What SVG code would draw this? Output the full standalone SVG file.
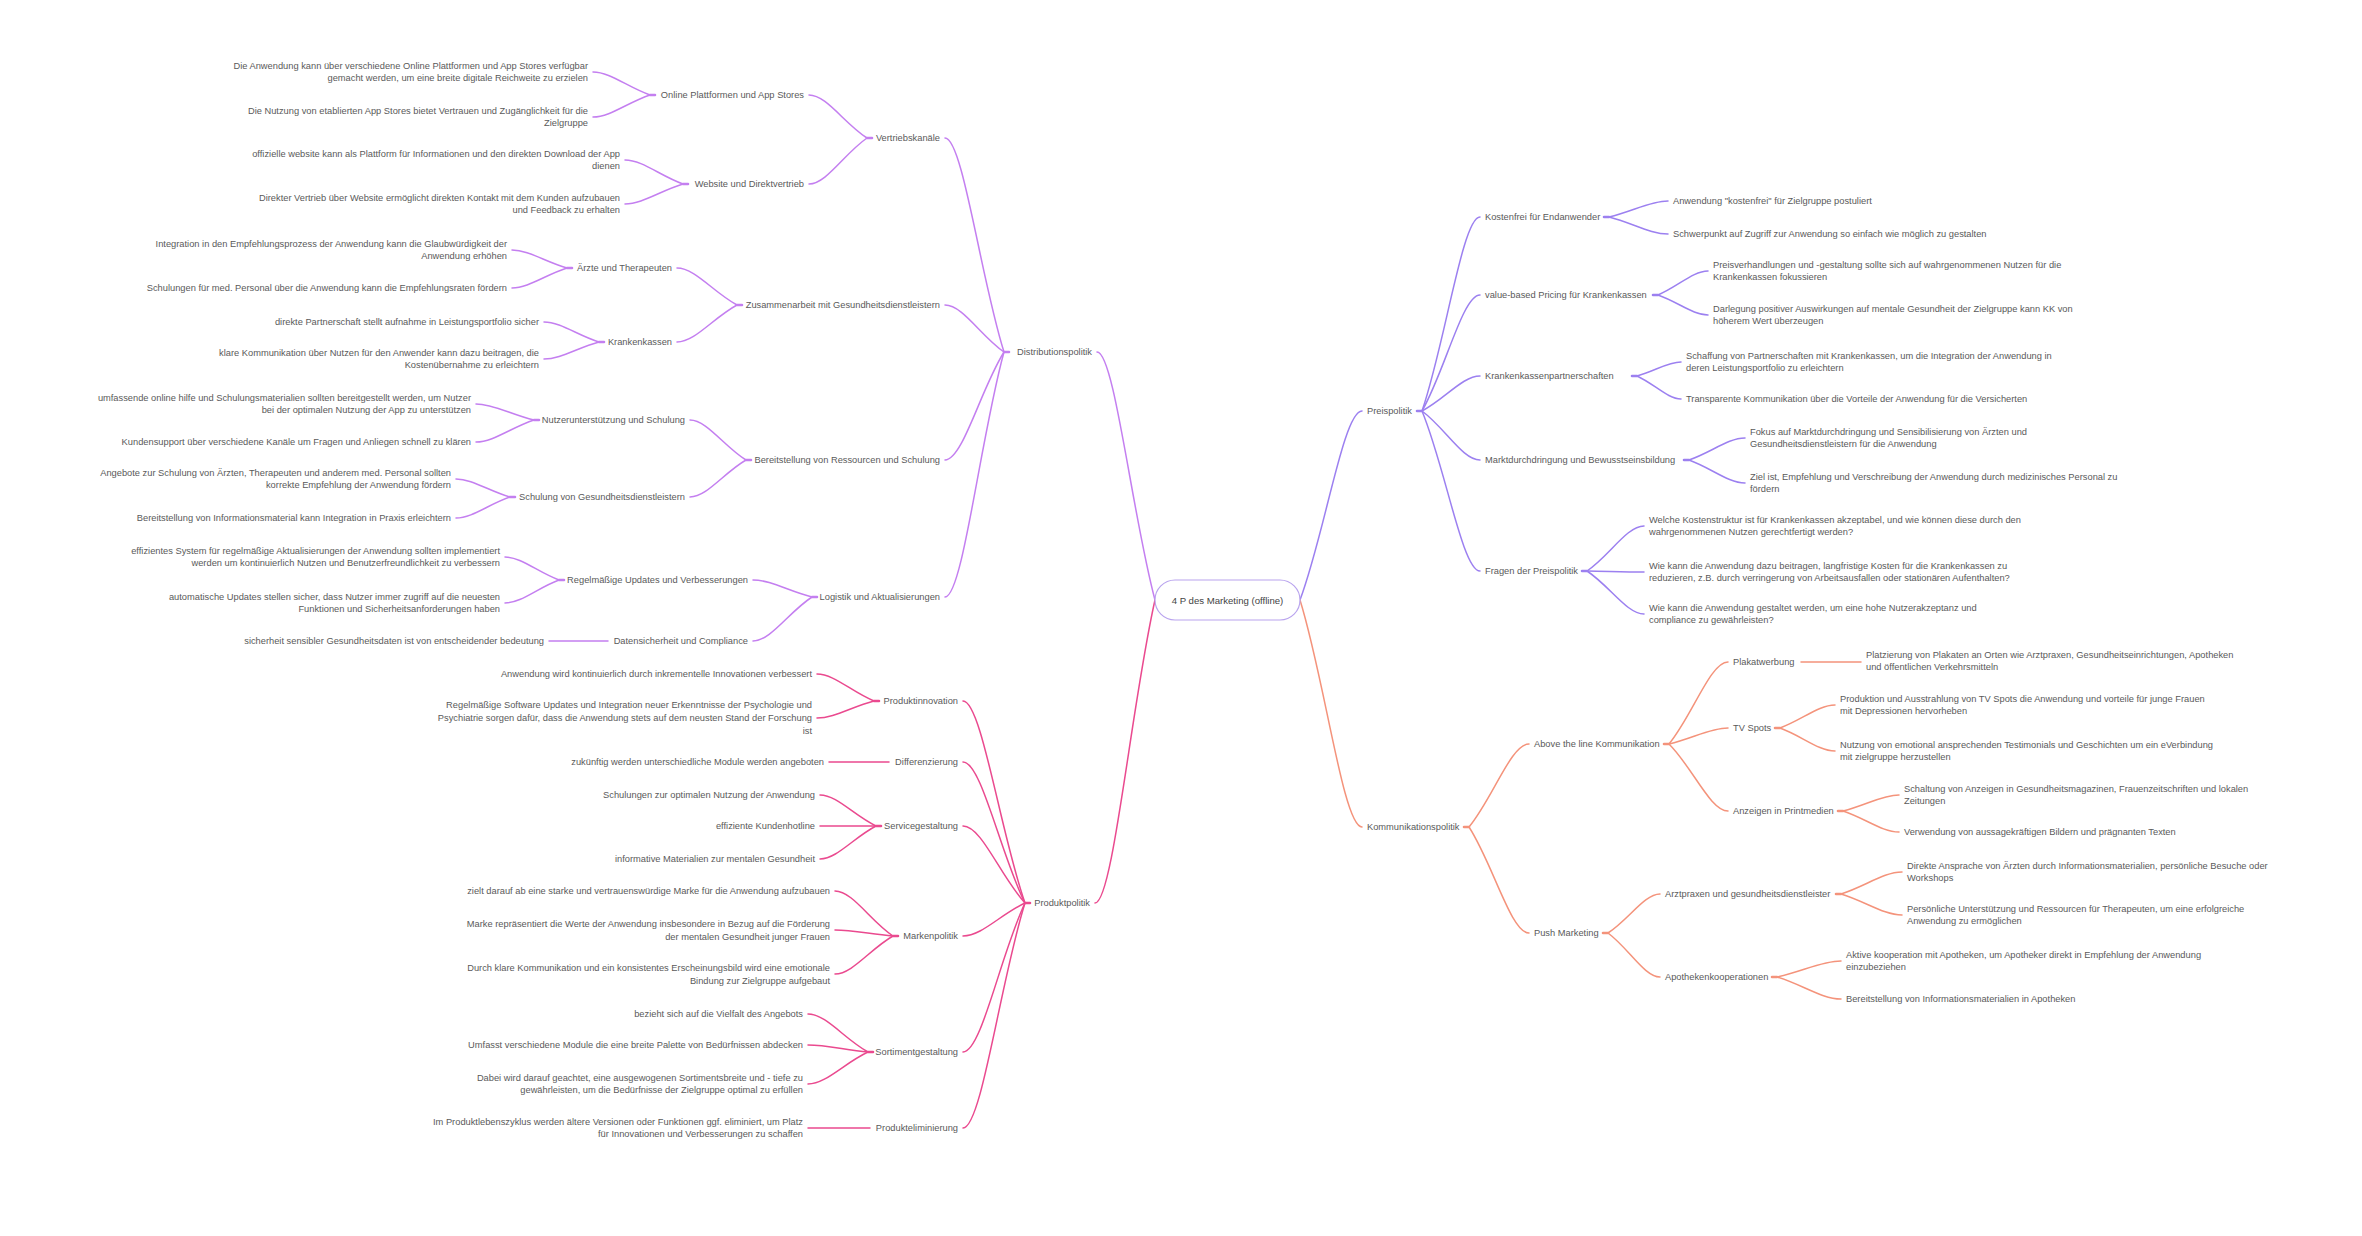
<svg xmlns="http://www.w3.org/2000/svg" width="2362" height="1236" viewBox="0 0 2362 1236">
<style>
.t{font-family:"Liberation Sans",Arial,sans-serif;font-size:9.3px;fill:#5a5a5a;dominant-baseline:central}
.e{text-anchor:end}
.m{text-anchor:middle}
.c path{fill:none;stroke-width:1.5;stroke-linecap:round}
.c path.s{stroke-width:2.6}
.cd path{stroke:#c47ff0}
.cp path{stroke:#ea4a8f}
.cv path{stroke:#9c80f0}
.ck path{stroke:#f4937b}
</style>
<rect width="2362" height="1236" fill="#fff"/>
<g id="connectors" class="c">
<g class="cd">
<path d="M1155,600 C1131.8,513.2 1114.4,352 1097,352"/>
<path d="M1004,352 C980.4,277.1 962.7,138 945,138"/>
<path d="M1004,352 C980.4,335.6 962.7,305 945,305"/>
<path d="M1004,352 C980.4,389.8 962.7,460 945,460"/>
<path d="M1004,352 C980.4,437.8 962.7,597 945,597"/>
<path d="M867,138 C843.8,123 826.4,95 809,95"/>
<path d="M867,138 C843.8,154.1 826.4,184 809,184"/>
<path d="M650,95 C627.2,87 610.1,72 593,72"/>
<path d="M650,95 C627.2,102.7 610.1,117 593,117"/>
<path d="M683,184 C659.8,175.6 642.4,160 625,160"/>
<path d="M683,184 C659.8,191 642.4,204 625,204"/>
<path d="M737,305 C713,292 695,268 677,268"/>
<path d="M737,305 C713,318 695,342 677,342"/>
<path d="M567,268 C545,261.7 528.5,250 512,250"/>
<path d="M567,268 C545,275 528.5,288 512,288"/>
<path d="M599,342 C577,335 560.5,322 544,322"/>
<path d="M599,342 C577,348 560.5,359 544,359"/>
<path d="M746,460 C723.6,446 706.8,420 690,420"/>
<path d="M746,460 C723.6,473 706.8,497 690,497"/>
<path d="M534,420 C510.8,414.4 493.4,404 476,404"/>
<path d="M534,420 C510.8,427.7 493.4,442 476,442"/>
<path d="M510,497 C488.4,490.7 472.2,479 456,479"/>
<path d="M510,497 C488.4,504.4 472.2,518 456,518"/>
<path d="M812,597 C788.4,591 770.7,580 753,580"/>
<path d="M812,597 C788.4,612.4 770.7,641 753,641"/>
<path d="M559,580 C537.4,572 521.2,557 505,557"/>
<path d="M559,580 C537.4,588 521.2,603 505,603"/>
<path d="M608,641 H549"/>
<path class="s" d="M1004,352 h5 M867,138 h5 M650,95 h5 M683,184 h5 M737,305 h5 M567,268 h5 M599,342 h5 M746,460 h5 M534,420 h5 M510,497 h5 M812,597 h5 M559,580 h5"/>
</g>
<g class="cp">
<path d="M1155,600 C1131,706 1113,903 1095,903"/>
<path d="M1025,903 C1000.2,832.3 981.6,701 963,701"/>
<path d="M1025,903 C1000.2,853.7 981.6,762 963,762"/>
<path d="M1025,903 C1000.2,876 981.6,826 963,826"/>
<path d="M1025,903 C1000.2,914.6 981.6,936 963,936"/>
<path d="M1025,903 C1000.2,955.2 981.6,1052 963,1052"/>
<path d="M1025,903 C1000.2,981.8 981.6,1128 963,1128"/>
<path d="M874,701 C851.2,691.6 834.1,674 817,674"/>
<path d="M874,701 C851.2,707 834.1,718 817,718"/>
<path d="M889,762 H829"/>
<path d="M876,826 C853.6,815.2 836.8,795 820,795"/>
<path d="M876,826 H820"/>
<path d="M876,826 C853.6,837.6 836.8,859 820,859"/>
<path d="M893,936 C869.8,920.3 852.4,891 835,891"/>
<path d="M893,936 C869.8,933.9 852.4,930 835,930"/>
<path d="M893,936 C869.8,949.3 852.4,974 835,974"/>
<path d="M868,1052 C844,1038.7 826,1014 808,1014"/>
<path d="M868,1052 C844,1049.6 826,1045 808,1045"/>
<path d="M868,1052 C844,1063.2 826,1084 808,1084"/>
<path d="M870,1128 H808"/>
<path class="s" d="M1025,903 h5 M874,701 h5 M876,826 h5 M893,936 h5 M868,1052 h5"/>
</g>
<g class="cv">
<path d="M1300,600 C1324.8,533.9 1343.4,411 1362,411"/>
<path d="M1422,411 C1445.2,343.1 1462.6,217 1480,217"/>
<path d="M1422,411 C1445.2,370.4 1462.6,295 1480,295"/>
<path d="M1422,411 C1445.2,398.8 1462.6,376 1480,376"/>
<path d="M1422,411 C1445.2,428.2 1462.6,460 1480,460"/>
<path d="M1422,411 C1445.2,467 1462.6,571 1480,571"/>
<path d="M1609,217 C1632.6,211.4 1650.3,201 1668,201"/>
<path d="M1609,217 C1632.6,223 1650.3,234 1668,234"/>
<path d="M1658,295 C1678,286.6 1693,271 1708,271"/>
<path d="M1658,295 C1678,302 1693,315 1708,315"/>
<path d="M1637,376 C1654.6,371.1 1667.8,362 1681,362"/>
<path d="M1637,376 C1654.6,384.1 1667.8,399 1681,399"/>
<path d="M1689,460 C1711.4,452.3 1728.2,438 1745,438"/>
<path d="M1689,460 C1711.4,468.1 1728.2,483 1745,483"/>
<path d="M1587,571 C1609.8,555.3 1626.9,526 1644,526"/>
<path d="M1587,571 C1609.8,571.4 1626.9,572 1644,572"/>
<path d="M1587,571 C1609.8,586.1 1626.9,614 1644,614"/>
<path class="s" d="M1422,411 h-5 M1609,217 h-5 M1658,295 h-5 M1637,376 h-5 M1689,460 h-5 M1587,571 h-5"/>
</g>
<g class="ck">
<path d="M1300,600 C1324.8,679.5 1343.4,827 1362,827"/>
<path d="M1469,827 C1493,798 1511,744 1529,744"/>
<path d="M1469,827 C1493,864.1 1511,933 1529,933"/>
<path d="M1669,744 C1692.6,715.3 1710.3,662 1728,662"/>
<path d="M1669,744 C1692.6,738.4 1710.3,728 1728,728"/>
<path d="M1669,744 C1692.6,767.5 1710.3,811 1728,811"/>
<path d="M1801,662 H1861"/>
<path d="M1780,728 C1802,720 1818.5,705 1835,705"/>
<path d="M1780,728 C1802,736 1818.5,751 1835,751"/>
<path d="M1843,811 C1865.4,805.4 1882.2,795 1899,795"/>
<path d="M1843,811 C1865.4,818.4 1882.2,832 1899,832"/>
<path d="M1608,933 C1628.8,919.4 1644.4,894 1660,894"/>
<path d="M1608,933 C1628.8,948.4 1644.4,977 1660,977"/>
<path d="M1841,894 C1865.4,886.3 1883.7,872 1902,872"/>
<path d="M1841,894 C1865.4,901.4 1883.7,915 1902,915"/>
<path d="M1777,977 C1802.6,971.4 1821.8,961 1841,961"/>
<path d="M1777,977 C1802.6,984.7 1821.8,999 1841,999"/>
<path class="s" d="M1469,827 h-5 M1669,744 h-5 M1780,728 h-5 M1843,811 h-5 M1608,933 h-5 M1841,894 h-5 M1777,977 h-5"/>
</g>
</g>

<g id="node-center">
<rect x="1155" y="580" width="145" height="40" rx="20" fill="#fff" stroke="#b9a4ee" stroke-width="1.2"/>
<text class="t m" x="1227.5" y="600" style="font-size:9.6px;fill:#444">4 P des Marketing (offline)</text>
</g>

<!-- Distributionspolitik -->
<g id="node-distributionspolitik"><text class="t e" x="1092" y="352">Distributionspolitik</text></g>
<g id="node-vertriebskanaele"><text class="t e" x="940" y="138">Vertriebskanäle</text></g>
<g id="node-online"><text class="t e" x="804" y="95">Online Plattformen und App Stores</text></g>
<g id="node-online-1"><text class="t e"><tspan x="588" y="66">Die Anwendung kann über verschiedene Online Plattformen und App Stores verfügbar</tspan><tspan x="588" y="78">gemacht werden, um eine breite digitale Reichweite zu erzielen</tspan></text></g>
<g id="node-online-2"><text class="t e"><tspan x="588" y="111">Die Nutzung von etablierten App Stores bietet Vertrauen und Zugänglichkeit für die</tspan><tspan x="588" y="123">Zielgruppe</tspan></text></g>
<g id="node-website"><text class="t e" x="804" y="184">Website und Direktvertrieb</text></g>
<g id="node-website-1"><text class="t e"><tspan x="620" y="154">offizielle website kann als Plattform für Informationen und den direkten Download der App</tspan><tspan x="620" y="166">dienen</tspan></text></g>
<g id="node-website-2"><text class="t e"><tspan x="620" y="198">Direkter Vertrieb über Website ermöglicht direkten Kontakt mit dem Kunden aufzubauen</tspan><tspan x="620" y="210">und Feedback zu erhalten</tspan></text></g>
<g id="node-zusammenarbeit"><text class="t e" x="940" y="305">Zusammenarbeit mit Gesundheitsdienstleistern</text></g>
<g id="node-aerzte"><text class="t e" x="672" y="268">Ärzte und Therapeuten</text></g>
<g id="node-aerzte-1"><text class="t e"><tspan x="507" y="244">Integration in den Empfehlungsprozess der Anwendung kann die Glaubwürdigkeit der</tspan><tspan x="507" y="256">Anwendung erhöhen</tspan></text></g>
<g id="node-aerzte-2"><text class="t e" x="507" y="288">Schulungen für med. Personal über die Anwendung kann die Empfehlungsraten fördern</text></g>
<g id="node-krankenkassen"><text class="t e" x="672" y="342">Krankenkassen</text></g>
<g id="node-kk-1"><text class="t e" x="539" y="322">direkte Partnerschaft stellt aufnahme in Leistungsportfolio sicher</text></g>
<g id="node-kk-2"><text class="t e"><tspan x="539" y="353">klare Kommunikation über Nutzen für den Anwender kann dazu beitragen, die</tspan><tspan x="539" y="365">Kostenübernahme zu erleichtern</tspan></text></g>
<g id="node-bereitstellung"><text class="t e" x="940" y="460">Bereitstellung von Ressourcen und Schulung</text></g>
<g id="node-nutzer"><text class="t e" x="685" y="420">Nutzerunterstützung und Schulung</text></g>
<g id="node-nutzer-1"><text class="t e"><tspan x="471" y="398">umfassende online hilfe und Schulungsmaterialien sollten bereitgestellt werden, um Nutzer</tspan><tspan x="471" y="410">bei der optimalen Nutzung der App zu unterstützen</tspan></text></g>
<g id="node-nutzer-2"><text class="t e" x="471" y="442">Kundensupport über verschiedene Kanäle um Fragen und Anliegen schnell zu klären</text></g>
<g id="node-schulung"><text class="t e" x="685" y="497">Schulung von Gesundheitsdienstleistern</text></g>
<g id="node-schulung-1"><text class="t e"><tspan x="451" y="473">Angebote zur Schulung von Ärzten, Therapeuten und anderem med. Personal sollten</tspan><tspan x="451" y="485">korrekte Empfehlung der Anwendung fördern</tspan></text></g>
<g id="node-schulung-2"><text class="t e" x="451" y="518">Bereitstellung von Informationsmaterial kann Integration in Praxis erleichtern</text></g>
<g id="node-logistik"><text class="t e" x="940" y="597">Logistik und Aktualisierungen</text></g>
<g id="node-updates"><text class="t e" x="748" y="580">Regelmäßige Updates und Verbesserungen</text></g>
<g id="node-updates-1"><text class="t e"><tspan x="500" y="551">effizientes System für regelmäßige Aktualisierungen der Anwendung sollten implementiert</tspan><tspan x="500" y="563">werden um kontinuierlich Nutzen und Benutzerfreundlichkeit zu verbessern</tspan></text></g>
<g id="node-updates-2"><text class="t e"><tspan x="500" y="597">automatische Updates stellen sicher, dass Nutzer immer zugriff auf die neuesten</tspan><tspan x="500" y="609">Funktionen und Sicherheitsanforderungen haben</tspan></text></g>
<g id="node-daten"><text class="t e" x="748" y="641">Datensicherheit und Compliance</text></g>
<g id="node-daten-1"><text class="t e" x="544" y="641">sicherheit sensibler Gesundheitsdaten ist von entscheidender bedeutung</text></g>

<!-- Produktpolitik -->
<g id="node-produktpolitik"><text class="t e" x="1090" y="903">Produktpolitik</text></g>
<g id="node-produktinnovation"><text class="t e" x="958" y="701">Produktinnovation</text></g>
<g id="node-pi-1"><text class="t e" x="812" y="674">Anwendung wird kontinuierlich durch inkrementelle Innovationen verbessert</text></g>
<g id="node-pi-2"><text class="t e"><tspan x="812" y="705">Regelmäßige Software Updates und Integration neuer Erkenntnisse der Psychologie und</tspan><tspan x="812" y="718">Psychiatrie sorgen dafür, dass die Anwendung stets auf dem neusten Stand der Forschung</tspan><tspan x="812" y="731">ist</tspan></text></g>
<g id="node-differenzierung"><text class="t e" x="958" y="762">Differenzierung</text></g>
<g id="node-diff-1"><text class="t e" x="824" y="762">zukünftig werden unterschiedliche Module werden angeboten</text></g>
<g id="node-service"><text class="t e" x="958" y="826">Servicegestaltung</text></g>
<g id="node-service-1"><text class="t e" x="815" y="795">Schulungen zur optimalen Nutzung der Anwendung</text></g>
<g id="node-service-2"><text class="t e" x="815" y="826">effiziente Kundenhotline</text></g>
<g id="node-service-3"><text class="t e" x="815" y="859">informative Materialien zur mentalen Gesundheit</text></g>
<g id="node-marke"><text class="t e" x="958" y="936">Markenpolitik</text></g>
<g id="node-marke-1"><text class="t e" x="830" y="891">zielt darauf ab eine starke und vertrauenswürdige Marke für die Anwendung aufzubauen</text></g>
<g id="node-marke-2"><text class="t e"><tspan x="830" y="924">Marke repräsentiert die Werte der Anwendung insbesondere in Bezug auf die Förderung</tspan><tspan x="830" y="937">der mentalen Gesundheit junger Frauen</tspan></text></g>
<g id="node-marke-3"><text class="t e"><tspan x="830" y="968">Durch klare Kommunikation und ein konsistentes Erscheinungsbild wird eine emotionale</tspan><tspan x="830" y="981">Bindung zur Zielgruppe aufgebaut</tspan></text></g>
<g id="node-sortiment"><text class="t e" x="958" y="1052">Sortimentgestaltung</text></g>
<g id="node-sort-1"><text class="t e" x="803" y="1014">bezieht sich auf die Vielfalt des Angebots</text></g>
<g id="node-sort-2"><text class="t e" x="803" y="1045">Umfasst verschiedene Module die eine breite Palette von Bedürfnissen abdecken</text></g>
<g id="node-sort-3"><text class="t e"><tspan x="803" y="1078">Dabei wird darauf geachtet, eine ausgewogenen Sortimentsbreite und - tiefe zu</tspan><tspan x="803" y="1090">gewährleisten, um die Bedürfnisse der Zielgruppe optimal zu erfüllen</tspan></text></g>
<g id="node-elim"><text class="t e" x="958" y="1128">Produkteliminierung</text></g>
<g id="node-elim-1"><text class="t e"><tspan x="803" y="1122">Im Produktlebenszyklus werden ältere Versionen oder Funktionen ggf. eliminiert, um Platz</tspan><tspan x="803" y="1134">für Innovationen und Verbesserungen zu schaffen</tspan></text></g>

<!-- Preispolitik -->
<g id="node-preispolitik"><text class="t" x="1367" y="411">Preispolitik</text></g>
<g id="node-kostenfrei"><text class="t" x="1485" y="217">Kostenfrei für Endanwender</text></g>
<g id="node-kf-1"><text class="t" x="1673" y="201">Anwendung "kostenfrei" für Zielgruppe postuliert</text></g>
<g id="node-kf-2"><text class="t" x="1673" y="234">Schwerpunkt auf Zugriff zur Anwendung so einfach wie möglich zu gestalten</text></g>
<g id="node-value"><text class="t" x="1485" y="295">value-based Pricing für Krankenkassen</text></g>
<g id="node-value-1"><text class="t"><tspan x="1713" y="265">Preisverhandlungen und -gestaltung sollte sich auf wahrgenommenen Nutzen für die</tspan><tspan x="1713" y="277">Krankenkassen fokussieren</tspan></text></g>
<g id="node-value-2"><text class="t"><tspan x="1713" y="309">Darlegung positiver Auswirkungen auf mentale Gesundheit der Zielgruppe kann KK von</tspan><tspan x="1713" y="321">höherem Wert überzeugen</tspan></text></g>
<g id="node-kkpartner"><text class="t" x="1485" y="376">Krankenkassenpartnerschaften</text></g>
<g id="node-kkp-1"><text class="t"><tspan x="1686" y="356">Schaffung von Partnerschaften mit Krankenkassen, um die Integration der Anwendung in</tspan><tspan x="1686" y="368">deren Leistungsportfolio zu erleichtern</tspan></text></g>
<g id="node-kkp-2"><text class="t" x="1686" y="399">Transparente Kommunikation über die Vorteile der Anwendung für die Versicherten</text></g>
<g id="node-markt"><text class="t" x="1485" y="460">Marktdurchdringung und Bewusstseinsbildung</text></g>
<g id="node-markt-1"><text class="t"><tspan x="1750" y="432">Fokus auf Marktdurchdringung und Sensibilisierung von Ärzten und</tspan><tspan x="1750" y="444">Gesundheitsdienstleistern für die Anwendung</tspan></text></g>
<g id="node-markt-2"><text class="t"><tspan x="1750" y="477">Ziel ist, Empfehlung und Verschreibung der Anwendung durch medizinisches Personal zu</tspan><tspan x="1750" y="489">fördern</tspan></text></g>
<g id="node-fragen"><text class="t" x="1485" y="571">Fragen der Preispolitik</text></g>
<g id="node-fragen-1"><text class="t"><tspan x="1649" y="520">Welche Kostenstruktur ist für Krankenkassen akzeptabel, und wie können diese durch den</tspan><tspan x="1649" y="532">wahrgenommenen Nutzen gerechtfertigt werden?</tspan></text></g>
<g id="node-fragen-2"><text class="t"><tspan x="1649" y="566">Wie kann die Anwendung dazu beitragen, langfristige Kosten für die Krankenkassen zu</tspan><tspan x="1649" y="578">reduzieren, z.B. durch verringerung von Arbeitsausfallen oder stationären Aufenthalten?</tspan></text></g>
<g id="node-fragen-3"><text class="t"><tspan x="1649" y="608">Wie kann die Anwendung gestaltet werden, um eine hohe Nutzerakzeptanz und</tspan><tspan x="1649" y="620">compliance zu gewährleisten?</tspan></text></g>

<!-- Kommunikationspolitik -->
<g id="node-kommunikationspolitik"><text class="t" x="1367" y="827">Kommunikationspolitik</text></g>
<g id="node-atl"><text class="t" x="1534" y="744">Above the line Kommunikation</text></g>
<g id="node-plakat"><text class="t" x="1733" y="662">Plakatwerbung</text></g>
<g id="node-plakat-1"><text class="t"><tspan x="1866" y="655">Platzierung von Plakaten an Orten wie Arztpraxen, Gesundheitseinrichtungen, Apotheken</tspan><tspan x="1866" y="667">und öffentlichen Verkehrsmitteln</tspan></text></g>
<g id="node-tv"><text class="t" x="1733" y="728">TV Spots</text></g>
<g id="node-tv-1"><text class="t"><tspan x="1840" y="699">Produktion und Ausstrahlung von TV Spots die Anwendung und vorteile für junge Frauen</tspan><tspan x="1840" y="711">mit Depressionen hervorheben</tspan></text></g>
<g id="node-tv-2"><text class="t"><tspan x="1840" y="745">Nutzung von emotional ansprechenden Testimonials und Geschichten um ein eVerbindung</tspan><tspan x="1840" y="757">mit zielgruppe herzustellen</tspan></text></g>
<g id="node-print"><text class="t" x="1733" y="811">Anzeigen in Printmedien</text></g>
<g id="node-print-1"><text class="t"><tspan x="1904" y="789">Schaltung von Anzeigen in Gesundheitsmagazinen, Frauenzeitschriften und lokalen</tspan><tspan x="1904" y="801">Zeitungen</tspan></text></g>
<g id="node-print-2"><text class="t" x="1904" y="832">Verwendung von aussagekräftigen Bildern und prägnanten Texten</text></g>
<g id="node-push"><text class="t" x="1534" y="933">Push Marketing</text></g>
<g id="node-arzt"><text class="t" x="1665" y="894">Arztpraxen und gesundheitsdienstleister</text></g>
<g id="node-arzt-1"><text class="t"><tspan x="1907" y="866">Direkte Ansprache von Ärzten durch Informationsmaterialien, persönliche Besuche oder</tspan><tspan x="1907" y="878">Workshops</tspan></text></g>
<g id="node-arzt-2"><text class="t"><tspan x="1907" y="909">Persönliche Unterstützung und Ressourcen für Therapeuten, um eine erfolgreiche</tspan><tspan x="1907" y="921">Anwendung zu ermöglichen</tspan></text></g>
<g id="node-apo"><text class="t" x="1665" y="977">Apothekenkooperationen</text></g>
<g id="node-apo-1"><text class="t"><tspan x="1846" y="955">Aktive kooperation mit Apotheken, um Apotheker direkt in Empfehlung der Anwendung</tspan><tspan x="1846" y="967">einzubeziehen</tspan></text></g>
<g id="node-apo-2"><text class="t" x="1846" y="999">Bereitstellung von Informationsmaterialien in Apotheken</text></g>
</svg>
